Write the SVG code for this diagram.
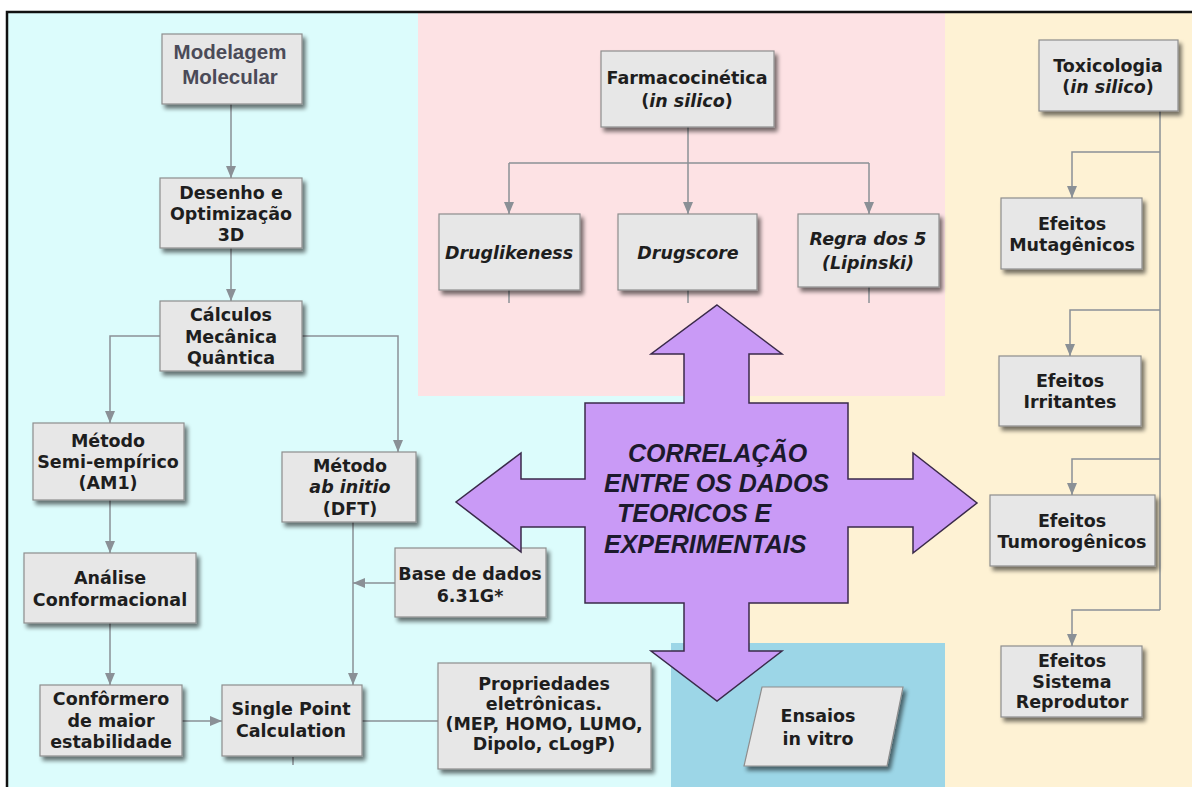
<svg xmlns="http://www.w3.org/2000/svg" width="1192" height="787" viewBox="0 0 1192 787">
<defs>
<style>
.bx{fill:#e7e7e7;stroke:#8e8e8e;stroke-width:1.2;filter:url(#sh)}
.t{font-family:"DejaVu Sans",Verdana,sans-serif;font-weight:bold;font-size:17.5px;fill:#1e1e1e;text-anchor:middle}
.it{font-style:italic}
.c{fill:none;stroke:#8a9096;stroke-width:1.5}
.ca{fill:none;stroke:#8a9096;stroke-width:1.5;marker-end:url(#ah)}
.big{font-family:"Liberation Sans",Arial,sans-serif;font-weight:bold;font-style:italic;font-size:25px;fill:#1c1a2c}
</style>
<filter id="sh" x="-10%" y="-10%" width="130%" height="140%">
<feGaussianBlur in="SourceAlpha" stdDeviation="2"/>
<feOffset dx="3" dy="4" result="o"/>
<feComponentTransfer><feFuncA type="linear" slope="0.55"/></feComponentTransfer>
<feMerge><feMergeNode/><feMergeNode in="SourceGraphic"/></feMerge>
</filter>
<marker id="ah" viewBox="0 0 12 10" refX="12" refY="5" markerWidth="12" markerHeight="10" markerUnits="userSpaceOnUse" orient="auto">
<path d="M0,0 L12,5 L0,10 z" fill="#8a9096"/>
</marker>
</defs>

<g id="background">
<rect x="7" y="12" width="1185" height="775" fill="#dcfcfc"/>
<rect x="418" y="12" width="527" height="384" fill="#fde2e4"/>
<rect x="945" y="12" width="247" height="775" fill="#fef2d4"/>
<rect x="717" y="396" width="228" height="247" fill="#fef2d4"/>
<rect x="671" y="643" width="274" height="144" fill="#9cd6e7"/>
<path d="M7,787 L7,12 L1192,12" fill="none" stroke="#111" stroke-width="2.5"/>
</g>

<g id="connectors">
<line class="ca" x1="231" y1="104" x2="231" y2="178"/>
<line class="ca" x1="231" y1="248" x2="231" y2="301"/>
<polyline class="ca" points="160,336 110,336 110,423"/>
<polyline class="ca" points="302,336 398,336 398,452"/>
<line class="ca" x1="110" y1="500" x2="110" y2="553"/>
<line class="ca" x1="110" y1="623" x2="110" y2="685"/>
<line class="ca" x1="182" y1="721" x2="222" y2="721"/>
<line class="ca" x1="353" y1="522" x2="353" y2="685"/>
<line class="ca" x1="395" y1="583" x2="353" y2="583"/>
<line class="c" x1="362" y1="721" x2="438" y2="721"/>
<line class="c" x1="293" y1="757" x2="293" y2="765"/>
<line class="c" x1="688" y1="127" x2="688" y2="163"/>
<line class="c" x1="509" y1="163" x2="869" y2="163"/>
<line class="ca" x1="509" y1="163" x2="509" y2="214"/>
<line class="ca" x1="688" y1="163" x2="688" y2="214"/>
<line class="ca" x1="869" y1="163" x2="869" y2="214"/>
<line class="c" x1="509" y1="290" x2="509" y2="303"/>
<line class="c" x1="688" y1="290" x2="688" y2="303"/>
<line class="c" x1="869" y1="287" x2="869" y2="303"/>
<line class="c" x1="1160" y1="111" x2="1160" y2="610"/>
<polyline class="ca" points="1160,152 1072,152 1072,198"/>
<polyline class="ca" points="1160,310 1070,310 1070,356"/>
<polyline class="ca" points="1160,459 1072,459 1072,495"/>
<polyline class="ca" points="1160,610 1072,610 1072,646"/>
</g>

<g id="n-modelagem">
<rect class="bx" x="162" y="34" width="140" height="70"/>
<text x="230" y="59" font-family="Liberation Sans, Arial, sans-serif" font-weight="bold" font-size="20.5" fill="#4b4b58" text-anchor="middle">Modelagem</text>
<text x="230" y="84" font-family="Liberation Sans, Arial, sans-serif" font-weight="bold" font-size="20.5" fill="#4b4b58" text-anchor="middle">Molecular</text>
</g>
<g id="n-desenho">
<rect class="bx" x="160" y="178" width="142" height="70"/>
<text class="t" x="231" y="199">Desenho e</text>
<text class="t" x="231" y="220">Optimização</text>
<text class="t" x="231" y="241">3D</text>
</g>
<g id="n-calculos">
<rect class="bx" x="160" y="301" width="142" height="70"/>
<text class="t" x="231" y="321">Cálculos</text>
<text class="t" x="231" y="343">Mecânica</text>
<text class="t" x="231" y="364">Quântica</text>
</g>
<g id="n-am1">
<rect class="bx" x="33" y="423" width="151" height="77"/>
<text class="t" x="108" y="447">Método</text>
<text class="t" x="108" y="468">Semi-empírico</text>
<text class="t" x="108" y="489">(AM1)</text>
</g>
<g id="n-analise">
<rect class="bx" x="24" y="553" width="172" height="70"/>
<text class="t" x="110" y="584">Análise</text>
<text class="t" x="110" y="606">Conformacional</text>
</g>
<g id="n-conformero">
<rect class="bx" x="40" y="685" width="142" height="71"/>
<text class="t" x="111" y="705">Confôrmero</text>
<text class="t" x="111" y="727">de maior</text>
<text class="t" x="111" y="748">estabilidade</text>
</g>
<g id="n-dft">
<rect class="bx" x="282" y="452" width="134" height="70"/>
<text class="t" x="350" y="472">Método</text>
<text class="t it" x="350" y="493">ab initio</text>
<text class="t" x="350" y="515">(DFT)</text>
</g>
<g id="n-base">
<rect class="bx" x="395" y="548" width="151" height="69"/>
<text class="t" x="470" y="580">Base de dados</text>
<text class="t" x="470" y="602">6.31G*</text>
</g>
<g id="n-single">
<rect class="bx" x="222" y="685" width="140" height="71"/>
<text class="t" x="291" y="715">Single Point</text>
<text class="t" x="291" y="737">Calculation</text>
</g>
<g id="n-propriedades">
<rect class="bx" x="438" y="663" width="213" height="106"/>
<text class="t" x="544" y="690">Propriedades</text>
<text class="t" x="544" y="710">eletrônicas.</text>
<text class="t" x="544" y="730">(MEP, HOMO, LUMO,</text>
<text class="t" x="544" y="750">Dipolo, cLogP)</text>
</g>

<g id="n-farmaco">
<rect class="bx" x="601" y="51" width="173" height="76"/>
<text class="t" x="687" y="84">Farmacocinética</text>
<text class="t" x="687" y="107">(<tspan class="it">in silico</tspan>)</text>
</g>
<g id="n-druglikeness">
<rect class="bx" x="439" y="214" width="141" height="76"/>
<text class="t it" x="509" y="259">Druglikeness</text>
</g>
<g id="n-drugscore">
<rect class="bx" x="618" y="214" width="139" height="76"/>
<text class="t it" x="688" y="259">Drugscore</text>
</g>
<g id="n-regra">
<rect class="bx" x="798" y="214" width="141" height="73"/>
<text class="t it" x="868" y="245">Regra dos 5</text>
<text class="t it" x="868" y="269">(Lipinski)</text>
</g>

<g id="n-toxicologia">
<rect class="bx" x="1039" y="40" width="139" height="71"/>
<text class="t" x="1108" y="72">Toxicologia</text>
<text class="t" x="1108" y="93">(<tspan class="it">in silico</tspan>)</text>
</g>
<g id="n-mutagenicos">
<rect class="bx" x="1001" y="198" width="141" height="71"/>
<text class="t" x="1072" y="230">Efeitos</text>
<text class="t" x="1072" y="251">Mutagênicos</text>
</g>
<g id="n-irritantes">
<rect class="bx" x="999" y="356" width="142" height="70"/>
<text class="t" x="1070" y="387">Efeitos</text>
<text class="t" x="1070" y="408">Irritantes</text>
</g>
<g id="n-tumorogenicos">
<rect class="bx" x="990" y="495" width="165" height="71"/>
<text class="t" x="1072" y="527">Efeitos</text>
<text class="t" x="1072" y="548">Tumorogênicos</text>
</g>
<g id="n-reprodutor">
<rect class="bx" x="1001" y="646" width="141" height="71"/>
<text class="t" x="1072" y="667">Efeitos</text>
<text class="t" x="1072" y="688">Sistema</text>
<text class="t" x="1072" y="708">Reprodutor</text>
</g>

<g id="n-correlacao">
<polygon points="717,305 782,354 749,354 749,403 848,403 848,479 913,479 913,453 977,503 913,553 913,527 848,527 848,603 749,603 749,651 782,651 717,701 651,651 684,651 684,603 585,603 585,527 521,527 521,552 456,502 521,453 521,479 585,479 585,403 684,403 684,354 651,354" fill="#c99af6" stroke="#3a2a4a" stroke-width="1.5" stroke-linejoin="miter"/>
<text class="big" x="628" y="462">CORRELAÇÃO</text>
<text class="big" x="604" y="492">ENTRE OS DADOS</text>
<text class="big" x="617" y="522">TEORICOS E</text>
<text class="big" x="604" y="553">EXPERIMENTAIS</text>
</g>

<g id="n-ensaios">
<polygon class="bx" points="762,687 903,687 887,766 744,766"/>
<text class="t" x="818" y="722">Ensaios</text>
<text class="t" x="818" y="745">in vitro</text>
</g>
</svg>
